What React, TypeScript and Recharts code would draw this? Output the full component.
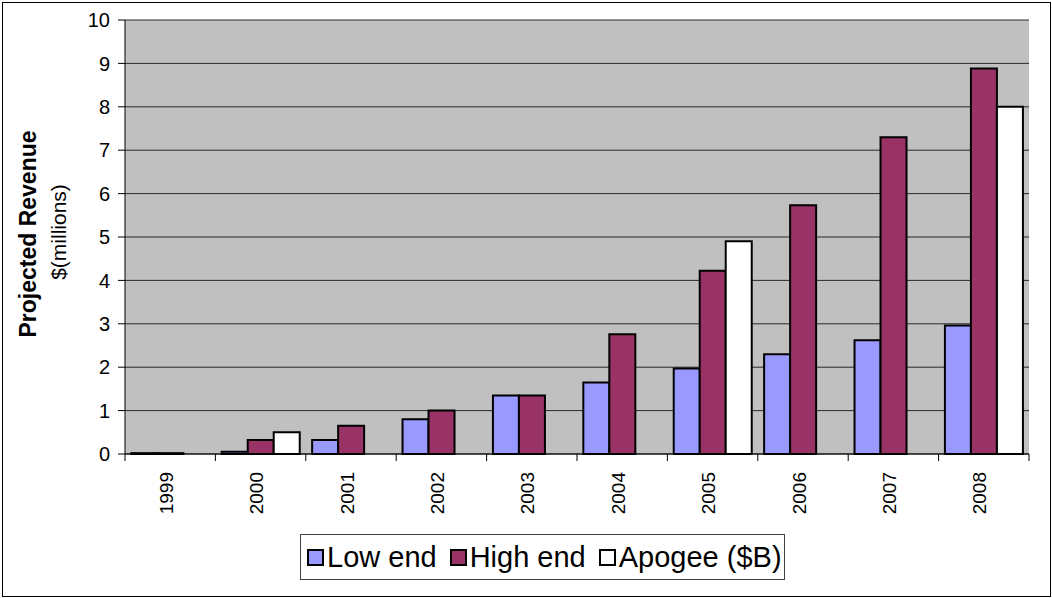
import React from "react";
import { BarChart, Bar, XAxis, YAxis, CartesianGrid, Legend } from "recharts";

const years = ["1999", "2000", "2001", "2002", "2003", "2004", "2005", "2006", "2007", "2008"];
const lowEnd = [0.02, 0.05, 0.32, 0.8, 1.35, 1.65, 1.97, 2.3, 2.62, 2.96];
const highEnd = [0.02, 0.32, 0.65, 1.0, 1.35, 2.76, 4.22, 5.73, 7.3, 8.88];
const apogee: (number | null)[] = [null, 0.5, null, null, null, null, 4.9, null, null, 8.0];
const yTicks = [0, 1, 2, 3, 4, 5, 6, 7, 8, 9, 10];

const data = years.map((y, i) => ({ year: y, low: lowEnd[i], high: highEnd[i], apogee: apogee[i] }));

const W = 1052;
const H = 598;
const M = { top: 20, right: 23, bottom: 74, left: 0 };
const Y_W = 125;
const X_H = 70;
const band = (W - M.left - M.right - Y_W) / years.length;

const FONT = "Arial, 'Liberation Sans', sans-serif";

const XTick = (props: any) => {
  const { x, y, payload, index } = props;
  const last = index === years.length - 1;
  const ty = y + 10;
  const tx = x - 4;
  return (
    <g>
      <line x1={x - band / 2} x2={x - band / 2} y1={y - 8} y2={y - 1} stroke="#000" />
      {last && <line x1={x + band / 2} x2={x + band / 2} y1={y - 8} y2={y - 1} stroke="#000" />}
      <text
        x={tx}
        y={ty}
        transform={`rotate(-90, ${tx}, ${ty})`}
        textAnchor="end"
        dominantBaseline="central"
        fontSize={19}
        fontFamily={FONT}
        fill="#000"
      >
        {payload.value}
      </text>
    </g>
  );
};

const YLabel = () => {
  const cy1 = 234;
  const cy2 = 232;
  return (
    <g>
      <text
        x={28}
        y={cy1}
        transform={`rotate(-90, 28, ${cy1})`}
        textAnchor="middle"
        dominantBaseline="central"
        fontSize={23}
        fontWeight="bold"
        fontFamily={FONT}
        fill="#000"
      >
        Projected Revenue
      </text>
      <text
        x={58}
        y={cy2}
        transform={`rotate(-90, 58, ${cy2})`}
        textAnchor="middle"
        dominantBaseline="central"
        fontSize={21}
        fontFamily={FONT}
        fill="#000"
      >
        $(millions)
      </text>
    </g>
  );
};

const legendItems = [
  { label: "Low end", color: "#9999FF" },
  { label: "High end", color: "#993366" },
  { label: "Apogee ($B)", color: "#FFFFFF" },
];

const LegendBox = () => (
  <div
    style={{
      border: "1px solid #404040",
      background: "#fff",
      width: 485,
      height: 46,
      boxSizing: "border-box",
      display: "flex",
      alignItems: "center",
      paddingLeft: 6,
      fontFamily: FONT,
      fontSize: 29,
      color: "#000",
      whiteSpace: "nowrap",
      overflow: "hidden",
    }}
  >
    {legendItems.map((it, i) => (
      <span
        key={it.label}
        style={{ display: "inline-flex", alignItems: "center", marginRight: i < 2 ? 13 : 0 }}
      >
        <span
          style={{
            display: "inline-block",
            width: 17,
            height: 17,
            background: it.color,
            border: "2px solid #000",
            boxSizing: "border-box",
            marginRight: 3,
          }}
        />
        {it.label}
      </span>
    ))}
  </div>
);

export default function App() {
  return (
    <div
      style={{
        position: "absolute",
        left: 0,
        top: 0,
        width: W,
        height: H,
        background: "#fff",
      }}
    >
      <div
        style={{
          position: "absolute",
          left: 2,
          top: 2,
          width: W - 5,
          height: H - 5,
          border: "1px solid #000",
          pointerEvents: "none",
        }}
      />
      <BarChart width={W} height={H} data={data} margin={M} barCategoryGap="7%" barGap={0}>
        <CartesianGrid vertical={false} fill="#C0C0C0" stroke="#1a1a1a" strokeOpacity={0.9} />
        <XAxis
          dataKey="year"
          height={X_H}
          tick={<XTick />}
          tickLine={false}
          axisLine={{ stroke: "#000" }}
          interval={0}
        />
        <YAxis
          width={Y_W}
          domain={[0, 10]}
          ticks={yTicks}
          interval={0}
          tickSize={7}
          tickMargin={8}
          tickLine={{ stroke: "#000" }}
          axisLine={{ stroke: "#000" }}
          tick={{ fontSize: 20, fontFamily: FONT, fill: "#000" }}
          label={<YLabel />}
        />
        <YAxis
          yAxisId="r"
          orientation="right"
          width={0}
          domain={[0, 10]}
          tick={false}
          tickLine={false}
          axisLine={{ stroke: "#808080", strokeWidth: 2 }}
        />
        <Legend
          layout="horizontal"
          verticalAlign="middle"
          align="center"
          content={<LegendBox />}
          wrapperStyle={{ position: "absolute", left: 300, top: 534, width: 485 }}
        />
        <Bar dataKey="low" fill="#9999FF" stroke="#000" strokeWidth={2} isAnimationActive={false} />
        <Bar dataKey="high" fill="#993366" stroke="#000" strokeWidth={2} isAnimationActive={false} />
        <Bar dataKey="apogee" fill="#FFFFFF" stroke="#000" strokeWidth={2} isAnimationActive={false} />
      </BarChart>
    </div>
  );
}
